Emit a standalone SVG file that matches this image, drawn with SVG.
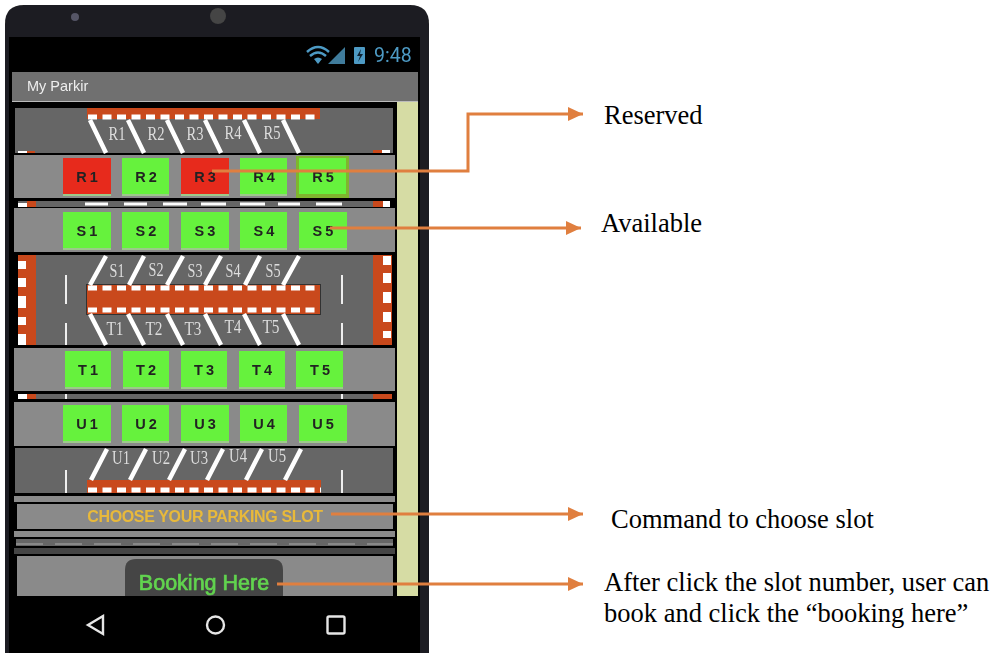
<svg xmlns="http://www.w3.org/2000/svg" width="1000" height="653" viewBox="0 0 1000 653">
<style>
.row{fill:#8a8a8a}
.lot{fill:#666666}
.red{fill:#c9491f}
.dash{fill:none;stroke:#fff;stroke-width:5;stroke-dasharray:9 5.5}
.stripe{stroke:#fff;stroke-width:4.5;fill:none}
.lane{stroke:#eee;stroke-width:2;fill:none}
.g{fill:#66f23e}
.r{fill:#e72c1e}
.base{fill:#9cc98a}
.bt{font:bold 14.500px "Liberation Sans",Arial,sans-serif;fill:#222;text-anchor:middle;word-spacing:-1px}
.st{font:18px "Liberation Serif","Times New Roman",serif;fill:#ddd;text-anchor:middle}
.lab{font:26.500px "Liberation Serif","Times New Roman",serif;fill:#000}
.conn{fill:none;stroke:#e07f3f;stroke-width:3;marker-end:url(#ah)}
.nav{fill:none;stroke:#e6e6e6;stroke-width:2.4}
.w{fill:#fff}
</style>
<defs>
<marker id="ah" markerUnits="userSpaceOnUse" markerWidth="16" markerHeight="14" refX="15" refY="7" orient="auto"><path d="M0 0L15 7L0 14Z" fill="#e07f3f"/></marker>
<filter id="soft" x="-2%" y="-2%" width="104%" height="104%"><feGaussianBlur stdDeviation="0.55"/></filter>
</defs>
<rect width="1000" height="653" fill="#fff"/>
<g id="phone" filter="url(#soft)">
<path d="M5 653V24Q5 5 24 5H410Q429 5 429 24V653Z" fill="#1c1c20"/>
<rect x="9" y="37" width="411" height="616" fill="#000"/>
<circle cx="75" cy="17" r="4" fill="#555566"/>
<circle cx="218" cy="16" r="8" fill="#444"/>
<g id="status">
<path d="M307 52Q318 42 329 52" fill="none" stroke="#4d9ac4" stroke-width="2.5"/>
<path d="M310 56Q318 49 326 56" fill="none" stroke="#4d9ac4" stroke-width="2.5"/>
<path d="M314 59Q318 56 322 59L318 64Z" fill="#4d9ac4"/>
<path d="M328 64L345 47V64Z" fill="#3f7c9c"/>
<rect x="354" y="47" width="11" height="17" rx="1" fill="#4d9ac4"/>
<path d="M361 49L357 56H360L358 62L363 54H360Z" fill="#123"/>
<text x="374" y="62" style="font:19.500px 'Roboto','Liberation Sans',sans-serif;fill:#4d9ac4">9:48</text>
</g>
<g id="title"><rect x="12" y="72" width="406" height="30" fill="#6f6f6f"/><rect x="12" y="101" width="406" height="1" fill="#bbb"/><text x="27" y="91" style="font:14.500px 'Liberation Sans',Arial,sans-serif;fill:#eee">My Parkir</text></g>
<rect x="397" y="102" width="21" height="494" fill="#d6dca4"/>

<g id="lot-r">
<rect class="lot" x="15" y="108" width="378" height="45"/>
<rect class="red" x="87" y="108" width="233" height="11"/>
<path class="dash" d="M88 117H320"/>
<path class="stripe" d="M90 120L106 153M128 120L144 153M167 120L183 153M205 120L221 153M244 120L260 153M283 120L299 153"/>
<text class="st" x="117" y="140" textLength="17" lengthAdjust="spacingAndGlyphs">R1</text><text class="st" x="156" y="140" textLength="17" lengthAdjust="spacingAndGlyphs">R2</text><text class="st" x="195" y="140" textLength="17" lengthAdjust="spacingAndGlyphs">R3</text><text class="st" x="233" y="139" textLength="17" lengthAdjust="spacingAndGlyphs">R4</text><text class="st" x="272" y="139" textLength="17" lengthAdjust="spacingAndGlyphs">R5</text>
<rect class="w" x="18" y="151" width="9" height="2"/><rect class="red" x="27" y="151" width="8" height="2"/><rect class="red" x="373" y="150" width="9" height="3"/><rect class="w" x="382" y="150" width="8" height="3"/>
</g>
<g id="row-r">
<rect class="row" x="14" y="155" width="381" height="43"/>
<g id="btn-r1"><rect class="base" x="63" y="158" width="48" height="38"/><rect class="r" x="63" y="158" width="48" height="36"/><text class="bt" x="87" y="182">R 1</text></g>
<g id="btn-r2"><rect class="base" x="122" y="158" width="47" height="38"/><rect class="g" x="122" y="158" width="47" height="36"/><text class="bt" x="146" y="182">R 2</text></g>
<g id="btn-r3"><rect class="base" x="181" y="158" width="48" height="38"/><rect class="r" x="181" y="158" width="48" height="36"/><text class="bt" x="205" y="182">R 3</text></g>
<g id="btn-r4"><rect class="base" x="240" y="158" width="47" height="38"/><rect class="g" x="240" y="158" width="47" height="36"/><text class="bt" x="264" y="182">R 4</text></g>
<g id="btn-r5"><rect x="296" y="156" width="53" height="42" fill="#7fb52e"/><rect class="g" x="299" y="158" width="47" height="36"/><text class="bt" x="323" y="182">R 5</text></g>
</g>
<g id="strip-1">
<rect class="lot" x="18" y="201" width="372" height="6"/>
<path d="M85 204H108M124 204H147M163 204H187M201 204H226M240 204H265M278 204H300M316 204H342" stroke="#fff" stroke-width="3"/>
<rect class="w" x="18" y="203" width="9" height="4"/>
<rect class="red" x="27" y="201" width="9" height="6"/><rect class="red" x="373" y="201" width="10" height="6"/><rect class="w" x="383" y="201" width="7" height="6"/>
</g>
<g id="row-s">
<rect class="row" x="14" y="208" width="381" height="44"/>
<g id="btn-s1"><rect class="base" x="63" y="212" width="48" height="38"/><rect class="g" x="63" y="212" width="48" height="36"/><text class="bt" x="87" y="236">S 1</text></g>
<g id="btn-s2"><rect class="base" x="122" y="212" width="47" height="38"/><rect class="g" x="122" y="212" width="47" height="36"/><text class="bt" x="146" y="236">S 2</text></g>
<g id="btn-s3"><rect class="base" x="181" y="212" width="48" height="38"/><rect class="g" x="181" y="212" width="48" height="36"/><text class="bt" x="205" y="236">S 3</text></g>
<g id="btn-s4"><rect class="base" x="240" y="212" width="47" height="38"/><rect class="g" x="240" y="212" width="47" height="36"/><text class="bt" x="264" y="236">S 4</text></g>
<g id="btn-s5"><rect class="base" x="299" y="212" width="48" height="38"/><rect class="g" x="299" y="212" width="48" height="36"/><text class="bt" x="323" y="236">S 5</text></g>
</g>
<g id="lot-st">
<rect class="lot" x="18" y="255" width="374" height="90"/>
<rect class="red" x="18" y="255" width="18" height="90"/><rect class="red" x="373" y="255" width="19" height="90"/>
<rect class="w" x="18" y="261" width="8" height="8"/><rect class="w" x="18" y="278" width="8" height="9"/><rect class="w" x="18" y="296" width="8" height="12"/><rect class="w" x="18" y="317" width="8" height="8"/><rect class="w" x="18" y="334" width="8" height="11"/>
<rect class="w" x="383" y="256" width="8" height="9"/><rect class="w" x="383" y="273" width="8" height="10"/><rect class="w" x="383" y="292" width="8" height="11"/><rect class="w" x="383" y="312" width="8" height="10"/><rect class="w" x="383" y="331" width="8" height="7"/>
<path class="lane" d="M66 275V304M66 323V345M342 275V304M342 323V345"/>
<rect x="86" y="284" width="235" height="31" fill="#333"/>
<rect class="red" x="87" y="285" width="233" height="29"/>
<path class="dash" d="M88 288H320M88 310H320"/>
<path class="stripe" d="M106 256L90 285M144 256L129 285M183 256L167 285M221 256L205 285M260 256L245 285M299 256L283 285"/>
<path class="stripe" d="M90 314L106 345M128 314L144 345M167 314L183 345M205 314L221 345M244 314L260 345M283 314L299 345"/>
<text class="st" x="117" y="277" textLength="15" lengthAdjust="spacingAndGlyphs">S1</text><text class="st" x="156" y="276" textLength="15" lengthAdjust="spacingAndGlyphs">S2</text><text class="st" x="195" y="277" textLength="15" lengthAdjust="spacingAndGlyphs">S3</text><text class="st" x="233" y="277" textLength="15" lengthAdjust="spacingAndGlyphs">S4</text><text class="st" x="273" y="277" textLength="15" lengthAdjust="spacingAndGlyphs">S5</text>
<text class="st" x="115" y="335" textLength="17" lengthAdjust="spacingAndGlyphs">T1</text><text class="st" x="154" y="335" textLength="17" lengthAdjust="spacingAndGlyphs">T2</text><text class="st" x="193" y="335" textLength="17" lengthAdjust="spacingAndGlyphs">T3</text><text class="st" x="233" y="333" textLength="17" lengthAdjust="spacingAndGlyphs">T4</text><text class="st" x="271" y="333" textLength="17" lengthAdjust="spacingAndGlyphs">T5</text>
</g>
<g id="row-t">
<rect class="row" x="14" y="348" width="381" height="43"/>
<g id="btn-t1"><rect class="base" x="65" y="351" width="46" height="38"/><rect class="g" x="65" y="351" width="46" height="36"/><text class="bt" x="88" y="375">T 1</text></g>
<g id="btn-t2"><rect class="base" x="123" y="351" width="46" height="38"/><rect class="g" x="123" y="351" width="46" height="36"/><text class="bt" x="146" y="375">T 2</text></g>
<g id="btn-t3"><rect class="base" x="181" y="351" width="46" height="38"/><rect class="g" x="181" y="351" width="46" height="36"/><text class="bt" x="204" y="375">T 3</text></g>
<g id="btn-t4"><rect class="base" x="239" y="351" width="46" height="38"/><rect class="g" x="239" y="351" width="46" height="36"/><text class="bt" x="262" y="375">T 4</text></g>
<g id="btn-t5"><rect class="base" x="296" y="351" width="47" height="38"/><rect class="g" x="296" y="351" width="47" height="36"/><text class="bt" x="320" y="375">T 5</text></g>
</g>
<g id="strip-2">
<rect class="lot" x="18" y="394" width="374" height="5"/>
<rect class="w" x="18" y="394" width="9" height="5"/><rect class="red" x="27" y="394" width="9" height="5"/><rect class="red" x="373" y="394" width="19" height="5"/>
<path class="lane" d="M66 394V399M342 394V399"/>
</g>
<g id="row-u">
<rect class="row" x="14" y="402" width="381" height="44"/>
<g id="btn-u1"><rect class="base" x="63" y="405" width="48" height="38"/><rect class="g" x="63" y="405" width="48" height="36"/><text class="bt" x="87" y="429">U 1</text></g>
<g id="btn-u2"><rect class="base" x="122" y="405" width="47" height="38"/><rect class="g" x="122" y="405" width="47" height="36"/><text class="bt" x="146" y="429">U 2</text></g>
<g id="btn-u3"><rect class="base" x="181" y="405" width="48" height="38"/><rect class="g" x="181" y="405" width="48" height="36"/><text class="bt" x="205" y="429">U 3</text></g>
<g id="btn-u4"><rect class="base" x="240" y="405" width="47" height="38"/><rect class="g" x="240" y="405" width="47" height="36"/><text class="bt" x="264" y="429">U 4</text></g>
<g id="btn-u5"><rect class="base" x="299" y="405" width="48" height="38"/><rect class="g" x="299" y="405" width="48" height="36"/><text class="bt" x="323" y="429">U 5</text></g>
</g>
<g id="lot-u">
<rect class="lot" x="15" y="448" width="378" height="45"/>
<rect class="red" x="87" y="480" width="234" height="13"/>
<path class="dash" d="M88 490H321"/>
<path class="lane" d="M66 470V493M342 470V493"/>
<path class="stripe" d="M107 449L91 480M146 449L130 480M185 449L169 480M223 449L207 480M262 449L246 480M301 449L285 480"/>
<text class="st" x="121" y="464" textLength="18" lengthAdjust="spacingAndGlyphs">U1</text><text class="st" x="161" y="464" textLength="18" lengthAdjust="spacingAndGlyphs">U2</text><text class="st" x="199" y="464" textLength="18" lengthAdjust="spacingAndGlyphs">U3</text><text class="st" x="238" y="462" textLength="18" lengthAdjust="spacingAndGlyphs">U4</text><text class="st" x="277" y="462" textLength="18" lengthAdjust="spacingAndGlyphs">U5</text>
</g>
<rect class="row" x="14" y="496" width="381" height="6"/>
<g id="command">
<rect class="row" x="17" y="504" width="376" height="25"/>
<text x="205" y="522" text-anchor="middle" style="font:bold 16px 'Liberation Sans',Arial,sans-serif;fill:#e8b93a;letter-spacing:-.35px">CHOOSE YOUR PARKING SLOT</text>
</g>
<rect class="row" x="14" y="531" width="381" height="6"/>
<g id="strip-3">
<rect class="lot" x="16" y="539" width="377" height="7"/>
<path d="M16 544H393" stroke="#aaa" stroke-width="1" stroke-dasharray="27 12"/>
</g>
<rect x="14" y="548" width="381" height="6" fill="#444"/>
<g id="booking">
<rect class="row" x="17" y="556" width="376" height="40"/>
<path d="M125 596V570Q125 559 136 559H272Q283 559 283 570V596Z" fill="#454545"/>
<text x="204" y="590" text-anchor="middle" style="font:21.500px 'Liberation Sans',Arial,sans-serif;fill:#62d44f;stroke:#62d44f;stroke-width:.7">Booking Here</text>
</g>
<g id="navbar">
<path class="nav" d="M103 616L88 625L103 634Z"/>
<circle class="nav" cx="215.500" cy="625" r="8.500"/>
<rect class="nav" x="327.500" y="616.500" width="17" height="17" rx="1.500"/>
</g>
</g>
<g id="connectors">
<path class="conn" d="M212 171H468V114H583"/>
<path class="conn" d="M330 228H581"/>
<path class="conn" d="M331 514H583"/>
<path class="conn" d="M277 584H583"/>
</g>
<g id="labels">
<text class="lab" x="604" y="124">Reserved</text>
<text class="lab" x="601" y="232">Available</text>
<text class="lab" x="611" y="528">Command to choose slot</text>
<text class="lab" x="604" y="591">After click the slot number, user can</text>
<text class="lab" x="604" y="622">book and click the “booking here”</text>
</g>
</svg>
